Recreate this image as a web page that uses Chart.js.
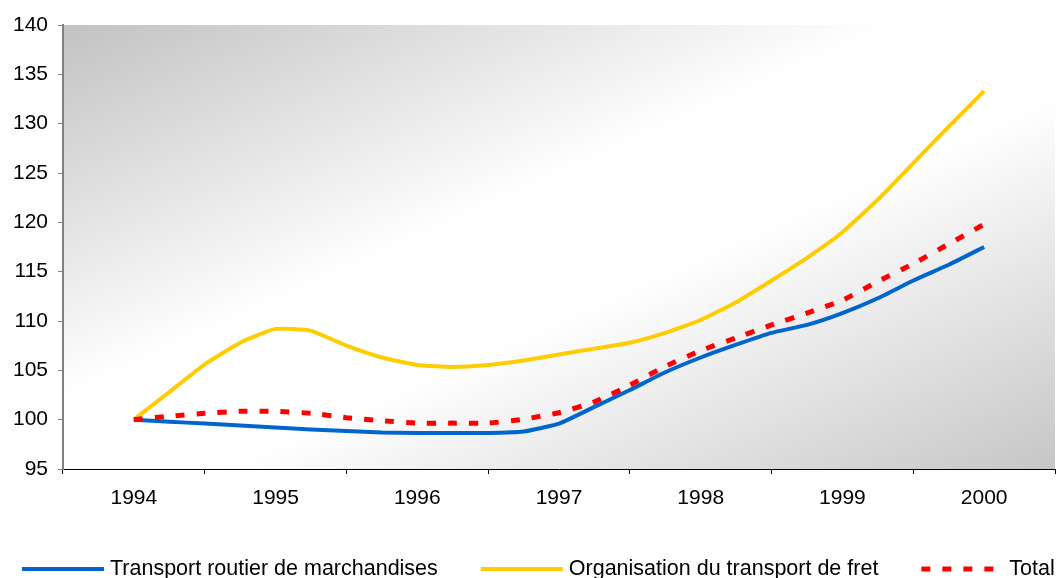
<!DOCTYPE html>
<html lang="fr">
<head>
<meta charset="UTF-8">
<title>Indices transport</title>
<style>
  html, body { margin: 0; padding: 0; background: #fff; }
  .chartBox { width: 1062px; height: 578px; }
</style>
</head>
<body>
<div class="chartBox">
  <canvas id="myChart"></canvas>
</div>

<script src="https://cdn.jsdelivr.net/npm/chart.js"></script>
<script>
// year labels on the axis
const years = ['1994', '1995', '1996', '1997', '1998', '1999', '2000'];

// quarterly points
const periods = [1994, 1994.25, 1994.5, 1994.75, 1995, 1995.25, 1995.5, 1995.75,
  1996, 1996.25, 1996.5, 1996.75, 1997, 1997.25, 1997.5, 1997.75,
  1998, 1998.25, 1998.5, 1998.75, 1999, 1999.25, 1999.5, 1999.75, 2000];

const routier = [100, 99.8, 99.6, 99.4, 99.2, 99.0, 98.85, 98.7,
  98.65, 98.65, 98.65, 98.8, 99.6, 101.3, 103.0, 104.8,
  106.3, 107.6, 108.8, 109.6, 110.8, 112.3, 114.1, 115.7, 117.5];

const fret = [100, 102.8, 105.6, 107.8, 109.2, 109.0, 107.5, 106.3,
  105.55, 105.35, 105.55, 106.0, 106.6, 107.2, 107.8, 108.8,
  110.1, 111.9, 114.1, 116.4, 119.0, 122.3, 126.0, 129.7, 133.3];

const total = [100, 100.35, 100.65, 100.85, 100.85, 100.65, 100.2, 99.9,
  99.65, 99.65, 99.65, 100.05, 100.7, 101.8, 103.5, 105.4,
  107.0, 108.3, 109.6, 110.8, 112.1, 114.0, 115.8, 117.8, 119.8];

const names = ['Transport routier de marchandises', 'Organisation du transport de fret', 'Total'];
const colors = ['#0066cc', '#ffcc00', '#ff0000'];

const FONT = "'Liberation Sans', Arial, sans-serif";

const toPoints = (vals) => vals.map((v, i) => ({x: periods[i], y: v}));

// grey diagonal gradient behind the plot
const plotBg = {
  id: 'plotBg',
  beforeDraw(chart) {
    const {ctx, chartArea: a} = chart;
    const w = a.right - a.left, h = a.bottom - a.top;
    const cx = a.left + w / 2, cy = a.top + h / 2;
    const len = Math.hypot(w, h);
    const nx = h / len, ny = w / len;
    const d = (w / 2 * nx + h / 2 * ny);
    const g = ctx.createLinearGradient(cx - d * nx, cy - d * ny, cx + d * nx, cy + d * ny);
    g.addColorStop(0, '#c2c2c2');
    g.addColorStop(0.42, '#ffffff');
    g.addColorStop(0.58, '#ffffff');
    g.addColorStop(1, '#c6c6c6');
    ctx.save();
    ctx.fillStyle = g;
    ctx.fillRect(a.left, a.top, w, h);
    ctx.restore();
  }
};

// legend along the bottom
const bottomLegend = {
  id: 'bottomLegend',
  afterDraw(chart) {
    const ctx = chart.ctx;
    const y = 569;
    let x = 22;
    ctx.save();
    ctx.font = '21.5px ' + FONT;
    ctx.textBaseline = 'middle';
    ctx.fillStyle = '#000';
    chart.data.datasets.forEach((ds) => {
      ctx.beginPath();
      ctx.strokeStyle = ds.borderColor;
      ctx.lineWidth = ds.borderWidth;
      ctx.setLineDash(ds.borderDash || []);
      ctx.moveTo(x, y);
      ctx.lineTo(x + 82, y);
      ctx.stroke();
      ctx.setLineDash([]);
      x += 88;
      ctx.fillText(ds.label, x, y);
      x += ctx.measureText(ds.label).width + 43;
    });
    ctx.restore();
  }
};

const ctx = document.getElementById('myChart');
new Chart(ctx, {
  type: 'line',
  data: {
    labels: years,
    datasets: [
      {label: names[0], data: toPoints(routier), borderColor: colors[0], borderWidth: 4,
        xAxisID: 'xq', pointRadius: 0, tension: 0.15, order: 2},
      {label: names[1], data: toPoints(fret), borderColor: colors[1], borderWidth: 4,
        xAxisID: 'xq', pointRadius: 0, tension: 0.15, order: 1},
      {label: names[2], data: toPoints(total), borderColor: colors[2], borderWidth: 5,
        borderDash: [9, 12], xAxisID: 'xq', pointRadius: 0, tension: 0.15, order: 0}
    ]
  },
  options: {
    responsive: true,
    maintainAspectRatio: false,
    animation: false,
    layout: { padding: { top: 25, right: 7, bottom: 67, left: 0 } },
    plugins: {
      legend: { display: false },
      tooltip: { enabled: false }
    },
    scales: {
      x: {
        type: 'category',
        offset: true,
        grid: { offset: true, drawOnChartArea: false, tickLength: 5, color: '#000' },
        border: { color: '#000', width: 1 },
        ticks: { color: '#000', padding: 12, font: { family: FONT, size: 21 } },
        afterFit(scale) { scale.height = 42; }
      },
      xq: {
        type: 'linear',
        display: false,
        min: 1993.5,
        max: 2000.5
      },
      y: {
        min: 95,
        max: 140,
        ticks: { stepSize: 5, color: '#000', padding: 10, font: { family: FONT, size: 21 } },
        grid: { drawOnChartArea: false, tickLength: 5, color: '#808080' },
        border: { color: '#808080', width: 2 },
        afterFit(scale) { scale.width = 63; }
      }
    }
  },
  plugins: [plotBg, bottomLegend]
});
</script>
</body>
</html>
